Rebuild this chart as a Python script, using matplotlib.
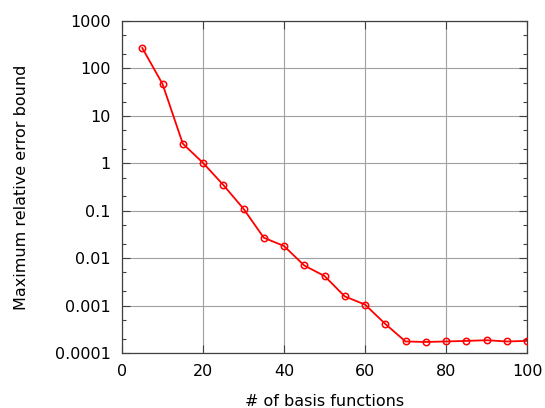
import matplotlib.pyplot as plt
from matplotlib.ticker import LogLocator, NullFormatter

# max relative error bound vs. number of basis functions
n_basis = [5, 10, 15, 20, 25, 30, 35, 40, 45, 50,
           55, 60, 65, 70, 75, 80, 85, 90, 95, 100]
err_bound = [270, 47, 2.6, 1.02, 0.35, 0.11, 0.027, 0.018, 0.0070, 0.0042,
             0.00156, 0.00105, 0.00041, 0.000175, 0.000171, 0.000175,
             0.00018, 0.000186, 0.000175, 0.00018]

y_ticks = [0.0001, 0.001, 0.01, 0.1, 1, 10, 100, 1000]
y_labels = ['0.0001', '0.001', '0.01', '0.1', '1', '10', '100', '1000']
x_ticks = [0, 20, 40, 60, 80, 100]

plt.rcParams['font.family'] = 'DejaVu Sans'
plt.rcParams['font.size'] = 11.5

fig = plt.figure(figsize=(5.45, 4.08), dpi=100)
ax = fig.add_axes([0.2239, 0.1348, 0.967 - 0.2239, 0.9485 - 0.1348])

ax.plot(n_basis, err_bound, color='#ff0000', lw=1.3, marker='o',
        markersize=4.6, markerfacecolor='none', markeredgecolor='#ff0000',
        markeredgewidth=1.1, zorder=3)

ax.set_yscale('log')
ax.set_xlim(0, 100)
ax.set_ylim(1e-4, 1e3)
ax.set_xticks(x_ticks)
ax.set_yticks(y_ticks)
ax.set_yticklabels(y_labels)
ax.yaxis.set_minor_locator(LogLocator(base=10, subs=(2, 5)))
ax.yaxis.set_minor_formatter(NullFormatter())

ax.grid(True, which='major', color='#a0a0a0', lw=0.8)
ax.set_axisbelow(True)
for s in ax.spines.values():
    s.set_color('#404040')
    s.set_linewidth(0.9)

ax.tick_params(which='major', direction='in', length=6, width=0.8,
               color='#404040', top=True, right=True)
ax.tick_params(which='minor', direction='in', length=3, width=0.8,
               color='#404040', right=True)
ax.tick_params(axis='y', pad=8)
ax.tick_params(axis='x', pad=8)

ax.set_xlabel('# of basis functions', labelpad=11)
ax.set_ylabel('Maximum relative error bound', labelpad=19)

fig.savefig('out.png', dpi=100)
